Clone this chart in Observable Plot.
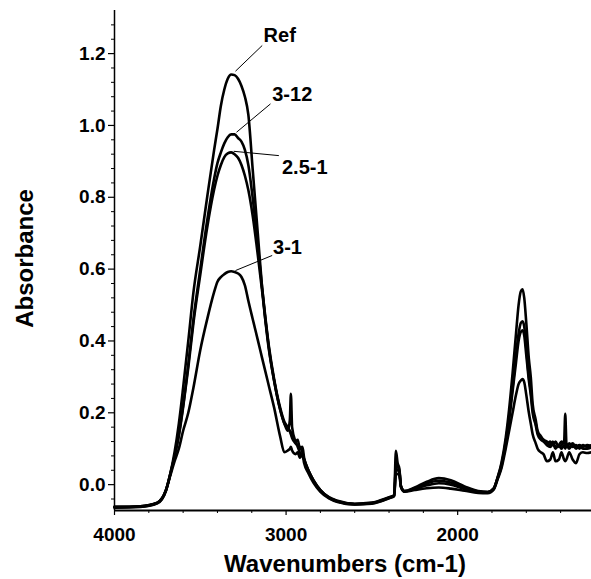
<!DOCTYPE html>
<html><head><meta charset="utf-8">
<script src="https://cdn.jsdelivr.net/npm/d3@7"></script>
<script src="https://cdn.jsdelivr.net/npm/@observablehq/plot@0.6"></script>
<style>body{margin:0;background:#fff}</style>
</head><body><div id="chart"></div>
<script>
// Wavenumber grid (cm-1), descending
const wavenumbers = [4000,3850,3750,3700,3675,3650,3625,3600,3570,3540,
  3500,3460,3420,3400,3380,3360,3340,3320,3300,3280,
  3260,3240,3220,3195,3165,3140,3100,3070,3035,3010,
  2990,2978,2972,2965,2945,2932,2920,2905,2895,2870,
  2840,2800,2750,2700,2600,2500,2400,2370,2360,2350,
  2340,2330,2310,2250,2180,2110,2040,1960,1880,1825,
  1790,1767,1745,1720,1700,1680,1660,1645,1632,1622,
  1612,1600,1585,1574,1563,1545,1534,1515,1500,1480,
  1460,1445,1430,1410,1395,1380,1373,1366,1350,1330,
  1310,1290,1270,1245,1220];

const absRef = [-0.062,-0.060,-0.050,-0.015,0.03,0.09,0.17,0.27,0.40,0.535,
  0.665,0.80,0.93,0.99,1.055,1.10,1.13,1.142,1.14,1.13,
  1.11,1.08,1.03,0.88,0.70,0.55,0.38,0.29,0.21,0.17,
  0.15,0.18,0.253,0.16,0.12,0.105,0.09,0.08,0.07,0.04,
  0.012,-0.015,-0.035,-0.045,-0.053,-0.05,-0.035,-0.03,0.094,0.06,
  0.045,-0.005,-0.018,-0.008,0.008,0.018,0.012,-0.005,-0.018,-0.02,
  -0.01,0.02,0.06,0.13,0.21,0.31,0.42,0.50,0.538,0.544,
  0.52,0.45,0.35,0.30,0.225,0.18,0.15,0.135,0.125,0.12,
  0.11,0.12,0.105,0.11,0.12,0.115,0.197,0.115,0.105,0.115,
  0.105,0.11,0.105,0.11,0.108];

const abs3_12 = [-0.063,-0.061,-0.051,-0.016,0.03,0.08,0.14,0.22,0.335,0.46,
  0.60,0.735,0.85,0.895,0.925,0.95,0.967,0.975,0.975,0.965,
  0.955,0.932,0.89,0.80,0.665,0.55,0.385,0.295,0.215,0.175,
  0.16,0.15,0.145,0.135,0.12,0.125,0.10,0.105,0.075,0.04,
  0.012,-0.015,-0.036,-0.046,-0.054,-0.051,-0.036,-0.03,0.055,0.05,
  0.04,-0.005,-0.018,-0.01,0.004,0.011,0.006,-0.008,-0.019,-0.021,
  -0.011,0.02,0.055,0.12,0.19,0.27,0.36,0.42,0.45,0.455,
  0.44,0.38,0.30,0.26,0.21,0.17,0.145,0.13,0.125,0.115,
  0.12,0.11,0.12,0.105,0.11,0.12,0.115,0.105,0.115,0.105,
  0.11,0.10,0.11,0.105,0.11];

const abs2_5_1 = [-0.064,-0.062,-0.052,-0.017,0.028,0.078,0.135,0.215,0.325,0.45,
  0.585,0.715,0.82,0.86,0.89,0.912,0.922,0.925,0.92,0.91,
  0.89,0.86,0.82,0.75,0.64,0.54,0.375,0.29,0.21,0.17,
  0.155,0.148,0.14,0.13,0.115,0.11,0.105,0.09,0.07,0.038,
  0.01,-0.017,-0.037,-0.047,-0.055,-0.052,-0.037,-0.031,0.045,0.04,
  0.035,-0.006,-0.019,-0.012,-0.002,0.004,0.0,-0.012,-0.021,-0.022,
  -0.012,0.018,0.05,0.115,0.18,0.26,0.34,0.40,0.425,0.43,
  0.415,0.36,0.29,0.25,0.20,0.165,0.14,0.125,0.12,0.11,
  0.105,0.115,0.10,0.11,0.10,0.11,0.10,0.11,0.10,0.11,
  0.10,0.108,0.10,0.10,0.104];

const abs3_1 = [-0.062,-0.060,-0.050,-0.015,0.025,0.065,0.10,0.15,0.20,0.27,
  0.375,0.46,0.535,0.565,0.578,0.586,0.592,0.594,0.592,0.588,
  0.578,0.555,0.512,0.462,0.403,0.353,0.274,0.215,0.135,0.09,
  0.095,0.10,0.105,0.095,0.085,0.09,0.075,0.085,0.06,0.032,
  0.005,-0.02,-0.038,-0.048,-0.055,-0.053,-0.038,-0.032,0.03,0.03,
  0.025,-0.008,-0.02,-0.015,-0.01,-0.008,-0.011,-0.017,-0.023,-0.024,
  -0.014,0.015,0.045,0.10,0.15,0.20,0.25,0.28,0.29,0.294,
  0.285,0.25,0.20,0.17,0.14,0.115,0.10,0.09,0.085,0.065,
  0.07,0.09,0.065,0.07,0.09,0.07,0.065,0.07,0.09,0.07,
  0.06,0.085,0.09,0.088,0.09];

const seriesNames = ["Ref", "3-12", "2.5-1", "3-1"];
const seriesValues = [absRef, abs3_12, abs2_5_1, abs3_1];

// Curve labels and leader lines (data coordinates)
const labelWn  = [3037, 2964, 2891, 2992];
const labelAbs = [1.249, 1.085, 0.884, 0.660];
const leaderFromWn  = [3295, 3289, 3305, 3295];
const leaderFromAbs = [1.151, 0.981, 0.928, 0.596];
const leaderToWn    = [3139, 3091, 3042, 3081];
const leaderToAbs   = [1.2226, 1.060, 0.916, 0.638];

// Axis ticks
const xMajorTicks = [4000, 3000, 2000];
const xMinorTicks = [3800,3600,3400,3200,2800,2600,2400,2200,1800,1600,1400];
const yMajorTicks = [0.0, 0.2, 0.4, 0.6, 0.8, 1.0, 1.2];
const yMinorTicks = d3.range(-1, 33).map(i => +(i * 0.04).toFixed(2)).filter(v => Math.abs(v / 0.2 - Math.round(v / 0.2)) > 1e-6);

const xDomain = [4000, 1220];
const yDomain = [-0.072, 1.32];

const rows = seriesNames.flatMap((name, s) =>
  wavenumbers.map((w, i) => ({series: name, wn: w, a: seriesValues[s][i]})));
const labels = seriesNames.map((name, i) => ({name, wn: labelWn[i], a: labelAbs[i],
  x1: leaderFromWn[i], y1: leaderFromAbs[i], x2: leaderToWn[i], y2: leaderToAbs[i]}));

const chart = Plot.plot({
  width: 591, height: 579,
  marginLeft: 114, marginRight: 0, marginTop: 10, marginBottom: 69,
  style: {fontFamily: "'Liberation Sans', Arial, sans-serif", fontWeight: "bold", fontSize: "19px", color: "#000", background: "#fff"},
  x: {domain: xDomain, label: null},
  y: {domain: yDomain, label: null},
  marks: [
    Plot.axisY(yMinorTicks, {tickSize: 3, tickFormat: () => "", label: null, strokeWidth: 1}),
    Plot.axisY(yMajorTicks, {tickSize: 6, tickPadding: 3, tickFormat: d => d.toFixed(1), label: null, strokeWidth: 1.2, fontSize: 19}),
    Plot.axisX(xMinorTicks, {tickSize: 3, tickFormat: () => "", label: null, strokeWidth: 1}),
    Plot.axisX(xMajorTicks, {tickSize: 5, tickPadding: 12, tickFormat: d => String(d), label: null, strokeWidth: 1.2, fontSize: 19}),
    Plot.ruleX([xDomain[0]], {strokeWidth: 1.5}),
    Plot.ruleY([yDomain[0]], {strokeWidth: 2}),
    Plot.line(rows, {x: "wn", y: "a", z: "series", stroke: "#000", strokeWidth: 2.6, curve: "monotone-x"}),
    Plot.link(labels, {x1: "x1", y1: "y1", x2: "x2", y2: "y2", stroke: "#000", strokeWidth: 1}),
    Plot.text(labels, {x: "wn", y: "a", text: "name", fontSize: 20, fontWeight: "bold"}),
    Plot.text(["Absorbance"], {frameAnchor: "left", textAnchor: "middle", lineAnchor: "middle", rotate: -90, dx: -89, dy: -2, fontSize: 24, fontWeight: "bold"}),
    Plot.text(["Wavenumbers (cm-1)"], {frameAnchor: "bottom", textAnchor: "middle", lineAnchor: "middle", dx: -8, dy: 54, fontSize: 24, fontWeight: "bold"})
  ]
});
document.getElementById("chart").appendChild(chart);
</script>
</body></html>
